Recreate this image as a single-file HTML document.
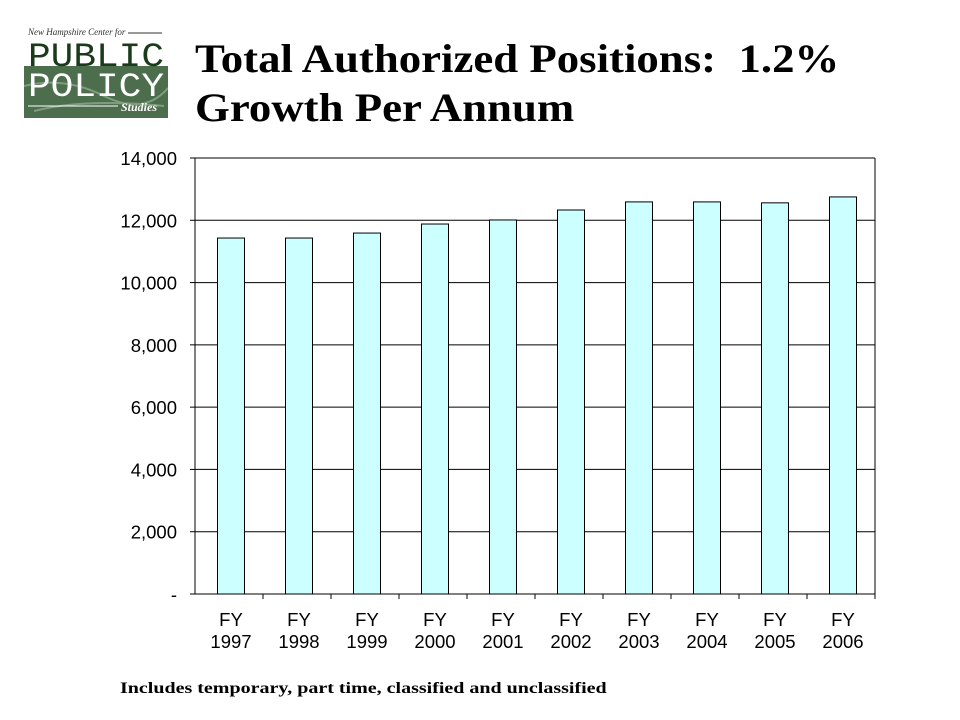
<!DOCTYPE html>
<html><head><meta charset="utf-8"><style>
body{margin:0;width:960px;height:720px;background:#fff;position:relative;overflow:hidden;font-family:"Liberation Sans",sans-serif}
#title{position:absolute;left:195px;top:34px;font-family:"Liberation Serif",serif;font-weight:bold;font-size:40px;line-height:49px;color:#000;transform:scaleX(1.12);transform-origin:left top;white-space:nowrap}
#note{position:absolute;left:120px;top:680px;font-family:"Liberation Serif",serif;font-weight:bold;font-size:16px;transform:scaleX(1.25);transform-origin:left top;white-space:nowrap}
#logo{position:absolute;left:24px;top:26px;width:144px;height:92px}
</style></head><body>
<svg id="logo" viewBox="0 0 144 92">
<rect x="0" y="0" width="144" height="92" fill="#fff"/>
<rect x="0" y="40" width="144" height="52" fill="#4d6e4d"/>
<path d="M0 60 Q40 50 80 70 T144 62 M10 85 Q60 72 140 80" stroke="#7f9c7f" fill="none" stroke-width="2"/>
<text x="4" y="9" font-family="Liberation Serif" font-style="italic" font-size="9" fill="#333">New Hampshire Center for</text>
<line x1="104" y1="7" x2="138" y2="7" stroke="#333"/>
<text x="4" y="40" font-family="Liberation Mono" font-size="34" fill="#1b3a1b" textLength="136" lengthAdjust="spacingAndGlyphs">PUBLIC</text>
<text x="4" y="70" font-family="Liberation Mono" font-size="34" fill="#fff" textLength="136" lengthAdjust="spacingAndGlyphs">POLICY</text>
<line x1="4" y1="80" x2="94" y2="80" stroke="#fff"/>
<text x="97" y="85" font-family="Liberation Serif" font-style="italic" font-weight="bold" font-size="12" fill="#fff">Studies</text>
</svg>
<div id="title">Total Authorized Positions:&nbsp; 1.2%<br>Growth Per Annum</div>
<svg id="chart" width="960" height="720" style="position:absolute;left:0;top:0"></svg>
<div id="note">Includes temporary, part time, classified and unclassified</div>
<script>
const categories=["1997","1998","1999","2000","2001","2002","2003","2004","2005","2006"];
const values=[11430,11430,11590,11880,12010,12330,12590,12590,12560,12750];
const ticks=[0,2000,4000,6000,8000,10000,12000,14000];
const tickLabels=["-","2,000","4,000","6,000","8,000","10,000","12,000","14,000"];
const svg=document.getElementById('chart');const NS='http://www.w3.org/2000/svg';
const x0=195,x1=875,y0=594,y1=158,maxV=14000;
const y=v=>y0-(v/maxV)*(y0-y1);
const band=(x1-x0)/categories.length;
function mk(t,a){const e=document.createElementNS(NS,t);for(const k in a)e.setAttribute(k,a[k]);svg.appendChild(e);return e;}
ticks.forEach((t,i)=>{
 if(t>0){const g=mk('line',{x1:x0,x2:x1,y1:y(t),y2:y(t),stroke:'#000','stroke-width':1});
 
 }
 const tk=mk('line',{x1:x0-5,x2:x0,y1:y(t),y2:y(t),stroke:'#000'});
 
 
 const l=mk('text',{x:x0-18,y:y(t)+7,'text-anchor':'end','font-size':18.5,'font-family':'Liberation Sans'});
 l.textContent=tickLabels[i];
 
 
});
const bw=27;
categories.forEach((c,i)=>{
 const cx=x0+band*(i+0.5);
 const r=mk('rect',{x:cx-bw/2+2,y:y(values[i]),width:bw,height:y0-y(values[i]),fill:'#ccffff',stroke:'#000','stroke-width':1});
 
 
 const tk=mk('line',{x1:x0+band*(i+1),x2:x0+band*(i+1),y1:y0,y2:y0+5,stroke:'#000'});
 
 
 const t=mk('text',{x:cx+2,y:y0+32,'text-anchor':'middle','font-size':18.5,'font-family':'Liberation Sans'});
 t.innerHTML='<tspan x="'+(cx+2)+'">FY</tspan><tspan x="'+(cx+2)+'" dy="22">'+c+'</tspan>';
 
 
});
const ax=mk('line',{x1:x0,x2:x0,y1:y1,y2:y0,stroke:'#000'});


const bx=mk('line',{x1:x0,x2:x1,y1:y0,y2:y0,stroke:'#000'});


const rx=mk('line',{x1:x1,x2:x1,y1:y1,y2:y0,stroke:'#000'});


</script>
</body></html>
